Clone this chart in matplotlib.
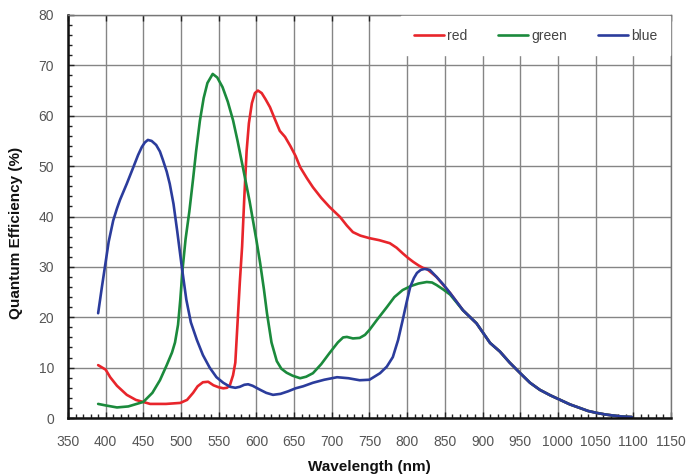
import numpy as np
import matplotlib
matplotlib.use("Agg")
import matplotlib.pyplot as plt
from matplotlib.ticker import MultipleLocator

# Quantum efficiency curves (wavelength nm, QE %)
red_wl = [390, 400, 406, 415, 428, 440, 459, 480, 499, 508, 516, 522, 529, 536, 543,
          550, 556, 561, 565, 569, 572, 575, 578, 581, 584, 587, 590, 594, 598, 602,
          607, 612, 618, 624, 631, 638, 645, 652, 658, 667, 675, 686, 697, 711,
          720, 728, 738, 750, 763, 777, 786, 794, 801, 808, 815, 821, 826,
          839, 857, 874, 892, 910, 923, 936, 950, 963, 976, 990, 1003, 1016, 1029,
          1040, 1052, 1063, 1073, 1085, 1098]
red_qe = [10.5, 9.6, 8.1, 6.4, 4.6, 3.6, 2.8, 2.8, 3.0, 3.6, 5.0, 6.3, 7.1, 7.2, 6.5,
          6.1, 5.9, 6.0, 6.6, 8.5, 11.0, 19.0, 27.0, 34.0, 44.0, 53.0, 58.5, 62.5, 64.5, 65.0,
          64.5, 63.3, 61.7, 59.5, 57.0, 55.8, 54.0, 52.0, 49.8, 47.6, 45.8, 43.7, 41.9, 39.9,
          38.2, 36.9, 36.2, 35.7, 35.3, 34.7, 33.8, 32.7, 31.8, 31.0, 30.3, 29.8, 29.6,
          28.0, 24.8, 21.4, 18.8, 14.9, 13.2, 11.0, 8.9, 7.0, 5.6, 4.5, 3.6, 2.7, 2.0,
          1.4, 1.0, 0.7, 0.5, 0.3, 0.2]

green_wl = [390, 400, 415, 430, 450, 462, 472, 481, 488, 492, 496, 499, 502, 506, 511,
            516, 520, 525, 530, 535, 542, 548, 555, 562, 569, 575, 582, 591, 600, 605, 610,
            614, 620, 627, 633, 640, 648, 658, 666, 675, 686, 697, 708, 715, 720, 728,
            737, 744, 750, 760, 773, 783, 794, 805, 815, 826, 833, 839, 848, 857,
            874, 892, 910, 923, 936, 950, 963, 976, 990, 1003, 1016, 1029,
            1040, 1052, 1063, 1073, 1085, 1098]
green_qe = [2.8, 2.5, 2.1, 2.3, 3.2, 5.0, 7.5, 10.5, 13.0, 15.0, 18.5, 23.5, 29.5, 35.5, 41.0,
            47.5, 53.0, 59.0, 63.5, 66.5, 68.3, 67.6, 65.7, 62.8, 59.1, 55.0, 49.8, 43.0, 35.3, 30.7, 25.5,
            20.8, 15.0, 11.3, 9.8, 9.0, 8.4, 7.9, 8.2, 8.9, 10.7, 12.9, 15.0, 16.0, 16.1, 15.8,
            15.9, 16.5, 17.5, 19.5, 22.0, 24.0, 25.4, 26.2, 26.7, 27.0, 26.9, 26.4, 25.5, 24.5,
            21.4, 18.8, 14.9, 13.2, 11.0, 8.9, 7.0, 5.6, 4.5, 3.6, 2.7, 2.0,
            1.4, 1.0, 0.7, 0.5, 0.3, 0.2]

blue_wl = [390, 395, 399, 404, 410, 415, 419, 428, 437, 443, 448, 452, 456, 461, 467, 472,
           476, 481, 485, 490, 495, 501, 507, 513, 521, 529, 538, 547, 556, 565, 572,
           578, 584, 589, 595, 605, 613, 622, 632, 642, 652, 662, 675, 690, 707, 722,
           737, 750, 764, 773, 781, 788, 794, 799, 804, 809, 813, 818, 823, 830, 839,
           848, 857, 874, 892, 910, 923, 936, 950, 963, 976, 990, 1003, 1016, 1029,
           1040, 1052, 1063, 1073, 1085, 1098]
blue_qe = [20.8, 26.0, 30.0, 35.0, 39.2, 41.6, 43.3, 46.5, 49.9, 52.2, 53.8, 54.7, 55.2, 55.0, 54.2, 52.9,
           51.2, 48.9, 46.5, 42.5, 37.0, 30.0, 23.5, 19.0, 15.5, 12.5, 10.0, 8.1, 7.0, 6.2, 6.0,
           6.2, 6.6, 6.7, 6.4, 5.6, 5.0, 4.6, 4.8, 5.3, 5.9, 6.3, 7.0, 7.6, 8.1, 7.9,
           7.5, 7.6, 8.9, 10.2, 12.1, 15.5, 19.4, 22.8, 26.0, 27.8, 28.8, 29.4, 29.6, 29.4, 28.0,
           26.5, 24.8, 21.4, 18.8, 14.9, 13.2, 11.0, 8.9, 7.0, 5.6, 4.5, 3.6, 2.7, 2.0,
           1.4, 1.0, 0.7, 0.5, 0.3, 0.2]

plt.rcParams['font.family'] = ['Liberation Sans', 'DejaVu Sans']

fig = plt.figure(figsize=(6.86, 4.76), dpi=100)
ax = fig.add_axes([0.0991, 0.1218, 0.8790, 0.8467])

ax.plot(red_wl, red_qe, color='#e8252b', lw=1.9, label='red', solid_capstyle='round')
ax.plot(green_wl, green_qe, color='#1b8a3c', lw=1.9, label='green', solid_capstyle='round')
ax.plot(blue_wl, blue_qe, color='#2b3c9c', lw=1.9, label='blue', solid_capstyle='round')

ax.set_xlim(350, 1150)
ax.set_ylim(0, 80)
ax.xaxis.set_major_locator(MultipleLocator(50))
ax.xaxis.set_minor_locator(MultipleLocator(10))
ax.yaxis.set_major_locator(MultipleLocator(10))
ax.yaxis.set_minor_locator(MultipleLocator(2))

ax.grid(True, which='major', color='#858585', lw=1.0)
ax.set_axisbelow(True)
ax.tick_params(which='both', direction='in', colors='#222222', labelcolor='#555555',
               labelsize=10, top=True, right=False)
ax.tick_params(axis='x', which='major', length=4, width=1, pad=12)
ax.tick_params(axis='x', which='minor', length=3, width=1, top=False)
ax.tick_params(axis='y', which='major', length=4, width=1, pad=10)
ax.tick_params(axis='y', which='minor', length=3, width=1)
for side in ['left', 'bottom']:
    ax.spines[side].set_linewidth(1.8)
    ax.spines[side].set_color('#111111')
for side in ['top', 'right']:
    ax.spines[side].set_linewidth(1.0)
    ax.spines[side].set_color('#777777')

ax.set_xlabel('Wavelength (nm)', fontsize=11, fontweight='bold', color='#111111')
ax.set_ylabel('Quantum Efficiency (%)', fontsize=11, fontweight='bold', color='#111111')
ax.xaxis.set_label_coords(0.5, -0.105)
ax.yaxis.set_label_coords(-0.075, 0.46)

leg = ax.legend(loc='upper right', bbox_to_anchor=(1.0, 1.0), ncol=3, frameon=True,
                fancybox=False, edgecolor='white', facecolor='white', framealpha=1.0,
                fontsize=10, handlelength=2.2, handletextpad=0.2, columnspacing=2.2,
                borderpad=0.9, borderaxespad=0.1)
for t in leg.get_texts():
    t.set_color('#444444')

fig.savefig('out.png', dpi=100)
